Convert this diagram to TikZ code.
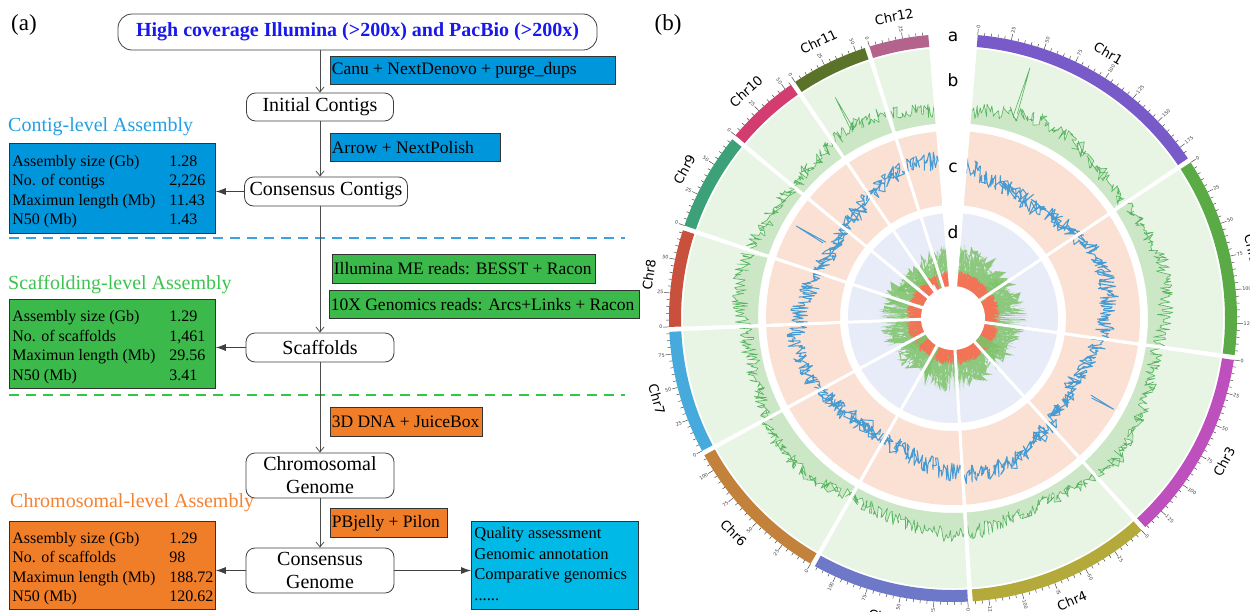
\documentclass[tikz,border=0pt]{standalone}
\usepackage{fontspec}
\setmainfont{Liberation Serif}
\newfontfamily\circfont{DejaVu Sans}
\usetikzlibrary{arrows.meta}
\definecolor{titleblue}{RGB}{25,25,235}
\definecolor{cblue}{RGB}{0,150,220}
\definecolor{cgreen}{RGB}{60,185,75}
\definecolor{corange}{RGB}{240,125,40}
\definecolor{cfinal}{RGB}{0,185,230}
\definecolor{lvlblue}{RGB}{35,160,225}
\definecolor{lvlgreen}{RGB}{60,195,80}
\definecolor{lvlorange}{RGB}{245,130,50}
\definecolor{dashblue}{RGB}{60,160,225}
\definecolor{dashgreen}{RGB}{50,200,70}
\definecolor{cA}{RGB}{120,90,200}
\definecolor{cB}{RGB}{90,170,70}
\definecolor{cC}{RGB}{190,80,190}
\definecolor{cD}{RGB}{180,170,60}
\definecolor{cE}{RGB}{110,120,200}
\definecolor{cF}{RGB}{195,130,60}
\definecolor{cG}{RGB}{70,170,220}
\definecolor{cH}{RGB}{200,80,60}
\definecolor{cI}{RGB}{60,160,120}
\definecolor{cJ}{RGB}{210,60,110}
\definecolor{cK}{RGB}{90,115,40}
\definecolor{cL}{RGB}{180,100,140}
\definecolor{bbg}{RGB}{232,244,228}
\definecolor{bdark}{RGB}{203,231,197}
\definecolor{bline}{RGB}{85,180,95}
\definecolor{cbg}{RGB}{251,224,212}
\definecolor{cline}{RGB}{70,155,210}
\definecolor{dbg}{RGB}{232,236,248}
\definecolor{spg}{RGB}{125,195,105}
\definecolor{spr}{RGB}{242,115,85}
\newcommand\annsec[5]{\fill[#5] (#1:#3) arc[start angle=#1, end angle=#2, radius=#3] -- (#2:#4) arc[start angle=#2, end angle=#1, radius=#4] -- cycle;}
\newcommand\statbox[1]{\raisebox{-3pt}[\height][\depth]{\makebox[200pt][l]{\begin{tabular}{@{}p{157pt}@{}l@{}}#1\end{tabular}}}}
\def\chrlist{85.0/34.2/cA/Chr1, 33.2/-7.5/cB/Chr2, -8.5/-47.4/cC/Chr3, -48.4/-86.0/cD/Chr4, -87.0/-119.1/cE/Chr5, -120.1/-151.1/cF/Chr6, -152.1/-177.2/cG/Chr7, -178.2/-198.0/cH/Chr8, -199.0/-219.0/cI/Chr9, -220.0/-235.2/cJ/Chr10, -236.2/-251.9/cK/Chr11, -252.9/-265.0/cL/Chr12}
\begin{document}
\begin{tikzpicture}[x=1pt,y=1pt,
  flow/.style={draw=black!75, line width=0.8pt, rounded corners=9pt, fill=white, font=\fontsize{20}{23}\selectfont, align=center, inner sep=0pt},
  tool/.style={draw=black!80, line width=0.7pt, anchor=north west, inner xsep=1.5pt, inner ysep=0pt, font=\fontsize{17.5}{20}\selectfont},
  stat/.style={draw=black!80, line width=0.8pt, anchor=north west, inner xsep=3pt, inner ysep=0pt, font=\fontsize{16}{19.5}\selectfont},
  varr/.style={draw=black!70, line width=0.8pt, -{Straight Barb[length=5pt,width=8pt]}},
  harr/.style={draw=black!75, line width=0.8pt, -{Latex[length=10pt,width=7pt]}},
  lvl/.style={anchor=west, font=\fontsize{20}{22}\selectfont, inner sep=0pt},
  dline/.style={line width=1.2pt, dash pattern=on 10pt off 7pt},
  ticks/.style={line width=0.5pt, black!70},
  ticklab/.style={font=\circfont\fontsize{4.8}{5.3}\selectfont, inner sep=0.3pt, text=black!75},
  chrlab/.style={font=\circfont\fontsize{13}{15}\selectfont, inner sep=0pt},
  trklab/.style={font=\circfont\fontsize{17}{19}\selectfont, inner sep=0pt}
]
\useasboundingbox (0,0) rectangle (1250,-611);
\fill[white] (0,0) rectangle (1250,-611);

% ---------------- panel (a) ----------------
\node[font=\fontsize{23}{25}\selectfont, inner sep=0pt] (pa) at (24,-25) {(a)};
\node[font=\fontsize{23}{25}\selectfont, inner sep=0pt] (pb) at (668,-25) {(b)};

\node[flow, rounded corners=14pt, minimum width=479, minimum height=36, text=titleblue, font=\fontsize{20}{23}\selectfont\bfseries] (top) at (357.5,-32) {High coverage Illumina (>200x) and PacBio (>200x)};
\node[flow, minimum width=147, minimum height=28] (init) at (320,-107) {Initial Contigs};
\node[flow, minimum width=163, minimum height=29] (cc) at (326,-191.5) {Consensus Contigs};
\node[flow, minimum width=148, minimum height=29] (scaf) at (320,-347.5) {Scaffolds};
\node[flow, minimum width=148, minimum height=45] (chrom) at (320,-475.5) {Chromosomal\\Genome};
\node[flow, minimum width=148, minimum height=45] (cgen) at (320,-570.5) {Consensus\\Genome};

\node[tool, fill=cblue, minimum width=285, minimum height=28] (canu) at (330,-56) {\makebox[282pt][l]{Canu + NextDenovo + purge\_dups}};
\node[tool, fill=cblue, minimum width=170, minimum height=28] (apol) at (330,-133) {\makebox[167pt][l]{Arrow + NextPolish}};
\node[tool, fill=cgreen, minimum width=263, minimum height=29] (besst) at (332,-254) {\makebox[260pt][l]{Illumina ME reads: BESST + Racon}};
\node[tool, fill=cgreen, minimum width=310, minimum height=28] (tenx) at (329,-290) {\makebox[307pt][l]{10X Genomics reads: Arcs+Links + Racon}};
\node[tool, fill=corange, minimum width=152, minimum height=29] (dna) at (330,-407) {\makebox[149pt][l]{3D DNA + JuiceBox}};
\node[tool, fill=corange, minimum width=117, minimum height=29] (pbj) at (330,-508) {\makebox[114pt][l]{PBjelly + Pilon}};

\node[lvl, text=lvlblue] (lc) at (8,-127) {Contig-level Assembly};
\node[lvl, text=lvlgreen] (ls) at (8,-285) {Scaffolding-level Assembly};
\node[lvl, text=lvlorange] (lo) at (10,-503) {Chromosomal-level Assembly};

\node[stat, fill=cblue, minimum width=206, minimum height=90] (cstat) at (9,-143) {\statbox{Assembly size (Gb) & 1.28\\ No. of contigs & 2,226\\ Maximun length (Mb) & 11.43\\ N50 (Mb) & 1.43}};
\node[stat, fill=cgreen, minimum width=206, minimum height=89] (sstat) at (9,-299) {\statbox{Assembly size (Gb) & 1.29\\ No. of scaffolds & 1,461\\ Maximun length (Mb) & 29.56\\ N50 (Mb) & 3.41}};
\node[stat, fill=corange, minimum width=206, minimum height=88] (ostat) at (9,-521) {\statbox{Assembly size (Gb) & 1.29\\ No. of scaffolds & 98\\ Maximun length (Mb) & 188.72\\ N50 (Mb) & 120.62}};
\node[stat, fill=cfinal, minimum width=167, minimum height=88, font=\fontsize{16.5}{20.5}\selectfont] (final) at (471,-521) {\makebox[161pt][l]{\begin{tabular}{@{}l@{}}Quality assessment\\ Genomic annotation\\ Comparative genomics\\ ......\end{tabular}}};

\coordinate (d1a) at (9,-238); \coordinate (d1b) at (625,-238);
\coordinate (d2a) at (9,-395); \coordinate (d2b) at (625,-395);
\draw[dline, dashblue] (d1a) -- (d1b);
\draw[dline, dashgreen] (d2a) -- (d2b);

\draw[varr] (top.south -| init) -- (init.north);
\draw[varr] (init.south) -- (init |- cc.north);
\draw[varr] (init |- cc.south) -- (scaf.north);
\draw[varr] (scaf.south) -- (chrom.north);
\draw[varr] (chrom.south) -- (cgen.north);
\draw[harr] (cc.west) -- (cc.west -| cstat.east);
\draw[harr] (scaf.west) -- (scaf.west -| sstat.east);
\draw[harr] (cgen.west) -- (cgen.west -| ostat.east);
\draw[harr] (cgen.east) -- (cgen.east -| final.west);

% ---------------- panel (b) ----------------
\begin{scope}[shift={(953,-318)}]
\foreach \s/\e/\col/\nm [count=\i] in \chrlist {
  \pgfmathtruncatemacro\ns{3*(\s-(\e))}
  \pgfmathtruncatemacro\nsp{12*(\s-(\e))}
  \pgfmathtruncatemacro\sd{\i*17+3}
  \annsec{\s}{\e}{195}{270}{bbg}
  \annsec{\s}{\e}{113}{187}{cbg}
  \annsec{\s}{\e}{33}{105}{dbg}
  \pgfmathsetseed{\sd}
  \fill[bdark] (\s:195) -- plot[domain=\s:\e, samples=\ns, variable=\t] (\t:{203+5*sin(7*(\t))+16*rnd}) -- (\e:195) arc[start angle=\e, end angle=\s, radius=195] -- cycle;
  \pgfmathsetseed{\sd}
  \draw[bline, line width=0.6pt, line join=round] plot[domain=\s:\e, samples=\ns, variable=\t] (\t:{203+5*sin(7*(\t))+16*rnd});
  \draw[cline, line width=1pt, line join=round] plot[domain=\s:\e, samples=\ns, variable=\t] (\t:{138+10*sin(4*(\t)+40)+20*rnd});
  \fill[spg, fill opacity=0.85] (0,0) -- plot[domain=\s:\e, samples=\nsp, variable=\t] (\t:{40+36*rnd^3}) -- cycle;
  \fill[spr] (0,0) -- plot[domain=\s:\e, samples=\nsp, variable=\t] (\t:{38+10*rnd^2}) -- cycle;
  \annsec{\s}{\e}{272}{284}{\col}
}
% a few outstanding peaks
\draw[bline, line width=0.6pt] (73.4:212) -- (72.9:262) -- (72.5:214);
\draw[bline, line width=0.6pt] (118.5:214) -- (118.1:250) -- (117.7:215);
\draw[cline, line width=0.9pt] (-30:160) -- (-29.6:185) -- (-29.2:158);
\draw[cline, line width=0.9pt] (150:150) -- (149.6:182) -- (149.2:148);
\fill[white] (0,0) circle[radius=32];
\foreach \b in {33.7,-8.0,-47.9,-86.5,-119.6,-151.6,-177.7,-198.5,-219.5,-235.7,-252.4} {
  \draw[white, line width=3pt] (\b:30) -- (\b:271);
}
\draw[white, line width=3pt] (0,0) -- (85.3:271);
\draw[white, line width=3pt] (0,0) -- (-265.3:271);
% ticks and labels
\foreach \s/\e/\col/\nm [count=\i] in \chrlist {
  \pgfmathtruncatemacro\nt{(\s-(\e))/1.373}
  \foreach \k in {0,...,\nt} {
    \pgfmathsetmacro\a{\s-\k*1.373}
    \pgfmathtruncatemacro\mj{mod(\k,5)}
    \ifnum\mj=0
      \draw[ticks] (\a:284) -- (\a:290);
      \pgfmathtruncatemacro\val{\k*5}
      \pgfmathtruncatemacro\rt{cos(\a)>=0}
      \ifnum\rt=1
        \node[ticklab, rotate=\a, anchor=west] (t\i-\k) at (\a:290.3) {\val};
      \else
        \pgfmathsetmacro\aa{\a+180}
        \node[ticklab, rotate=\aa, anchor=east] (t\i-\k) at (\a:290.3) {\val};
      \fi
    \else
      \draw[ticks] (\a:284) -- (\a:287);
    \fi
  }
  \pgfmathsetmacro\m{(\s+\e)/2}
  \pgfmathtruncatemacro\up{sin(\m)>=0}
  \ifnum\up=1 \pgfmathsetmacro\rr{\m-90}\else\pgfmathsetmacro\rr{\m+90}\fi
  \node[chrlab, rotate=\rr] (chr\i) at (\m:307) {\nm};
}
\node[trklab] (ta) at (0,281) {a};
\node[trklab] (tb) at (0,238) {b};
\node[trklab] (tc) at (0,150) {c};
\node[trklab] (td) at (0,86) {d};
\end{scope}
\end{tikzpicture}
\end{document}
